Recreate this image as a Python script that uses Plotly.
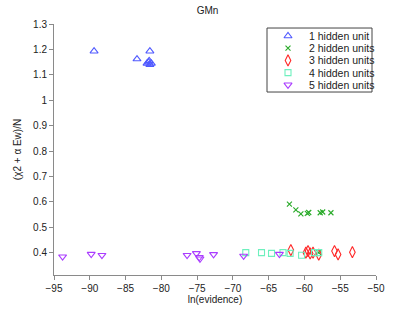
import plotly.graph_objects as go

# 1 hidden unit
h1_x = [-89.4, -83.4, -81.6, -82.0, -81.8, -81.6, -81.4, -81.7]
h1_y = [1.193, 1.162, 1.193, 1.145, 1.150, 1.140, 1.145, 1.155]
# 2 hidden units
h2_x = [-62.1, -61.2, -60.5, -59.6, -59.4, -57.8, -57.45, -56.3, -58.0]
h2_y = [0.591, 0.568, 0.553, 0.555, 0.558, 0.557, 0.560, 0.557, 0.400]
# 3 hidden units
h3_x = [-61.9, -59.8, -59.5, -59.2, -58.8, -58.0, -55.8, -55.3, -53.3]
h3_y = [0.410, 0.400, 0.406, 0.397, 0.400, 0.392, 0.406, 0.393, 0.402]
# 4 hidden units
h4_x = [-68.2, -66.0, -64.6, -63.0, -62.0, -60.4, -58.6, -58.0]
h4_y = [0.400, 0.400, 0.397, 0.400, 0.397, 0.390, 0.400, 0.400]
# 5 hidden units
h5_x = [-93.8, -89.8, -88.3, -76.4, -75.1, -74.7, -74.6, -72.7, -68.5, -63.5]
h5_y = [0.384, 0.394, 0.390, 0.390, 0.397, 0.382, 0.376, 0.393, 0.387, 0.394]

names = ["1 hidden unit", "2 hidden units", "3 hidden units", "4 hidden units", "5 hidden units"]
xs = [h1_x, h2_x, h3_x, h4_x, h5_x]
ys = [h1_y, h2_y, h3_y, h4_y, h5_y]
colors = ["rgb(80,90,255)", "rgb(40,170,40)", "rgb(255,40,40)", "rgb(110,240,190)", "rgb(170,60,255)"]
symbols = ["triangle-up-open", "x-thin", "diamond-tall-open", "square-open", "triangle-down-open"]
sizes = [7, 5, 8, 6, 7]

fig = go.Figure()
for x, y, n, c, s, sz in zip(xs, ys, names, colors, symbols, sizes):
    fig.add_trace(go.Scatter(x=x, y=y, mode="markers", name=n, showlegend=False,
                             marker=dict(symbol=s, size=sz, color=c,
                                         line=dict(color=c, width=1.1))))

# custom compact legend (box in pixel-like units on an overlay axis)
leg_x0, leg_x1 = 0.6615, 0.9876
leg_y0, leg_y1 = 0.729, 0.984
for i, (n, c, s, sz) in enumerate(zip(names, colors, symbols, sizes)):
    fig.add_trace(go.Scatter(x=[21], y=[8 + 12.2 * i], mode="markers", showlegend=False,
                             hoverinfo="skip", xaxis="x2", yaxis="y2",
                             marker=dict(symbol=s, size=sz, color=c,
                                         line=dict(color=c, width=1.1))))
    fig.add_annotation(x=40, y=8 + 12.2 * i, xref="x2", yref="y2", text=n,
                       showarrow=False, xanchor="left", yanchor="middle",
                       font=dict(size=10.5, color="#222"))
fig.add_shape(type="rect", xref="x2 domain", yref="y2 domain", x0=0, x1=1, y0=0, y1=1,
              line=dict(color="#444", width=1), fillcolor="rgba(255,255,255,0)", layer="above")

axis_common = dict(showgrid=False, zeroline=False, showline=True, linecolor="#8a8a8a",
                   linewidth=1, ticks="outside", ticklen=4, tickcolor="#8a8a8a",
                   tickfont=dict(size=10, color="#222"), automargin=False)
fig.update_layout(
    width=415, height=313,
    margin=dict(l=54, r=39, t=24, b=38),
    paper_bgcolor="white", plot_bgcolor="white",
    font=dict(family="Liberation Sans, Arial, sans-serif", size=10, color="#222"),
    title=dict(text="GMn", x=0.5, xanchor="center", y=0.978, yanchor="top",
               font=dict(size=10)),
    xaxis=dict(range=[-95, -50], tickvals=[-95, -90, -85, -80, -75, -70, -65, -60, -55, -50],
               ticktext=["\u221295", "\u221290", "\u221285", "\u221280", "\u221275", "\u221270",
                         "\u221265", "\u221260", "\u221255", "\u221250"],
               title=dict(text="ln(evidence)", standoff=1, font=dict(size=10)), **axis_common),
    yaxis=dict(range=[0.312, 1.3], tickvals=[0.4, 0.5, 0.6, 0.7, 0.8, 0.9, 1.0, 1.1, 1.2, 1.3],
               ticktext=["0.4", "0.5", "0.6", "0.7", "0.8", "0.9", "1", "1.1", "1.2", "1.3"],
               title=dict(text="(\u03c72 + \u03b1 Ew)/N", standoff=9, font=dict(size=10)),
               **axis_common),
    xaxis2=dict(domain=[leg_x0, leg_x1], range=[0, 105], visible=False, fixedrange=True,
                anchor="y2"),
    yaxis2=dict(domain=[leg_y0, leg_y1], range=[64, 0], visible=False, fixedrange=True,
                anchor="x2"),
    showlegend=False,
)
fig.write_html("out.html", config={"displayModeBar": False},
               post_script="document.body.style.margin='0';")
